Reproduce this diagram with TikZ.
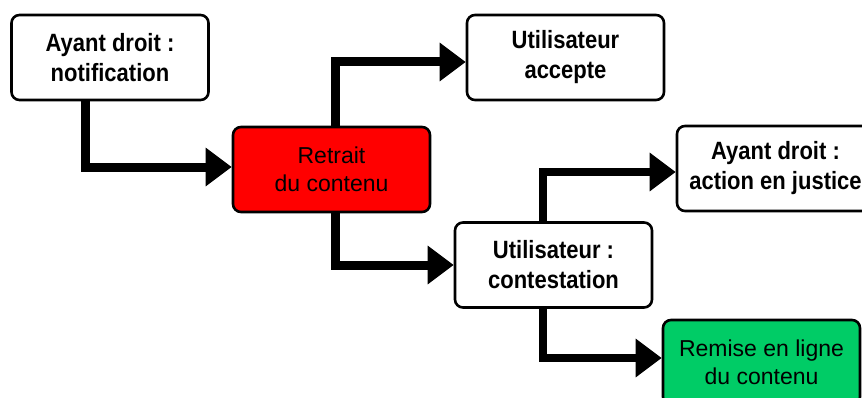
\documentclass[tikz,border=0pt]{standalone}
\usepackage{fontspec}
\setmainfont{Liberation Sans}
\newfontfamily\condbold[FakeStretch=0.88]{Liberation Sans Bold}
\usetikzlibrary{arrows.meta}
\definecolor{boxred}{RGB}{255,0,0}
\definecolor{boxgreen}{RGB}{0,204,102}
\tikzset{
  box/.style={draw=black, line width=2.6pt, rounded corners=8pt,
    minimum width=197pt, minimum height=85pt, inner sep=0pt, align=center},
  boldbox/.style={box, fill=white, font=\fontsize{25pt}{30pt}\condbold},
  plainbox/.style={box, font=\fontsize{23pt}{28pt}\selectfont},
  conn/.style={line width=#1, line join=miter, -{Triangle[length=26pt,width=37pt]}},
  conn/.default=9pt
}
\begin{document}
\begin{tikzpicture}[x=1pt,y=1pt]
\useasboundingbox (0,0) rectangle (862,397);
\clip (0,0) rectangle (862,397);
\fill[white] (0,0) rectangle (862,397);
\node[boldbox] (n1) at (110,339.5) {Ayant droit :\\notification};
\node[plainbox, fill=boxred] (red) at (331.5,227.5) {Retrait\\du contenu};
\node[boldbox] (acc) at (565.5,339.5) {Utilisateur\\accepte};
\node[boldbox] (cont) at (553.5,132) {Utilisateur :\\contestation};
\node[boldbox] (just) at (775.5,228.5) {Ayant droit :\\action en justice};
\node[plainbox, fill=boxgreen] (rem) at (761.5,34.5) {Remise en ligne\\du contenu};
\draw[conn] ([xshift=-25pt]n1.south) |- ([yshift=2.5pt]red.west);
\draw[conn] ([xshift=3.5pt]red.north) |- ([yshift=-4.5pt]acc.west);
\draw[conn] ([xshift=3.5pt]red.south) |- (cont.west);
\draw[conn=7.5pt] ([xshift=-10.5pt]cont.north) |- ([yshift=-3.5pt]just.west);
\draw[conn=7.5pt] ([xshift=-10.5pt]cont.south) |- ([yshift=4.5pt]rem.west);
\end{tikzpicture}
\end{document}
